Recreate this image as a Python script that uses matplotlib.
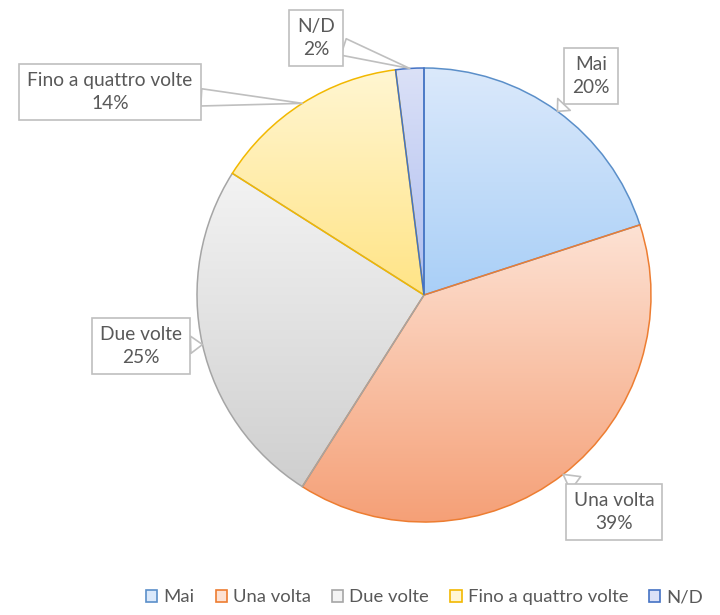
import numpy as np
import matplotlib
matplotlib.use("Agg")
import matplotlib.pyplot as plt
from matplotlib.patches import Patch
from matplotlib.colors import LinearSegmentedColormap

# Chart data
categories = ["Mai", "Una volta", "Due volte", "Fino a quattro volte", "N/D"]
shares = [20, 39, 25, 14, 2]

# gradient (top, bottom) and outline colour per slice
top_colors = ["#dbe9fb", "#fde2d4", "#f3f3f3", "#fff6d2", "#dbe1f7"]
bottom_colors = ["#a9cff7", "#f5a077", "#cfcfcf", "#ffe486", "#aebdef"]
edge_colors = ["#5b8fc9", "#ed7d31", "#a5a5a5", "#f2b800", "#4472c4"]

TEXT = "#595959"
plt.rcParams["font.family"] = ["Lato", "DejaVu Sans"]

fig = plt.figure(figsize=(7.2, 6.15), dpi=100)
ax = fig.add_axes([0, 0, 1, 1])

cx, cy, r = 424, 320, 227
wedges, _ = ax.pie(shares, startangle=90, counterclock=False, center=(cx, cy),
                   radius=r, frame=True,
                   wedgeprops=dict(linewidth=1.1))
ax.set_xlim(0, 720)
ax.set_ylim(0, 615)
ax.set_aspect("equal")
ax.axis("off")

# gradient fill clipped to each wedge, outline on top
for w, c0, c1, ec in zip(wedges, top_colors, bottom_colors, edge_colors):
    bb = w.get_path().get_extents(w.get_patch_transform())
    cmap = LinearSegmentedColormap.from_list("g", [c1, c0])
    grad = np.linspace(0, 1, 256).reshape(-1, 1)
    im = ax.imshow(grad, cmap=cmap, origin="lower", aspect="auto",
                   extent=[bb.x0, bb.x1, bb.y0, bb.y1], zorder=0.5,
                   interpolation="bicubic")
    im.set_clip_path(w)
    w.set_facecolor("none")
    w.set_edgecolor(ec)
    w.set_zorder(1)

# callout labels
label_pos = [(591, 539), (614, 103), (141, 269), (110, 523), (316, 577)]
for w, name, val, (tx, ty) in zip(wedges, categories, shares, label_pos):
    ang = np.deg2rad((w.theta1 + w.theta2) / 2)
    px, py = cx + r * np.cos(ang), cy + r * np.sin(ang)
    ax.annotate(f"{name}\n{val}%", xy=(px, py), xytext=(tx, ty),
                ha="center", va="center", fontsize=13.8, color=TEXT,
                linespacing=1.4, zorder=3,
                bbox=dict(boxstyle="square,pad=0.42", fc="white",
                          ec="#bfbfbf", lw=1.2),
                arrowprops=dict(arrowstyle="wedge,tail_width=0.9,shrink_factor=0.5",
                                fc="white", ec="#bfbfbf", lw=1.2,
                                shrinkA=0, shrinkB=0))

handles = [Patch(facecolor=c0, edgecolor=ec, lw=1.2)
           for c0, ec in zip(top_colors, edge_colors)]
fig.legend(handles, categories, loc="center", bbox_to_anchor=(0.59, 0.029),
           ncol=5, frameon=False, fontsize=13.3, labelcolor=TEXT,
           handlelength=0.6, handleheight=0.6, handletextpad=0.33,
           columnspacing=1.15)

fig.savefig("out.png", dpi=100)
